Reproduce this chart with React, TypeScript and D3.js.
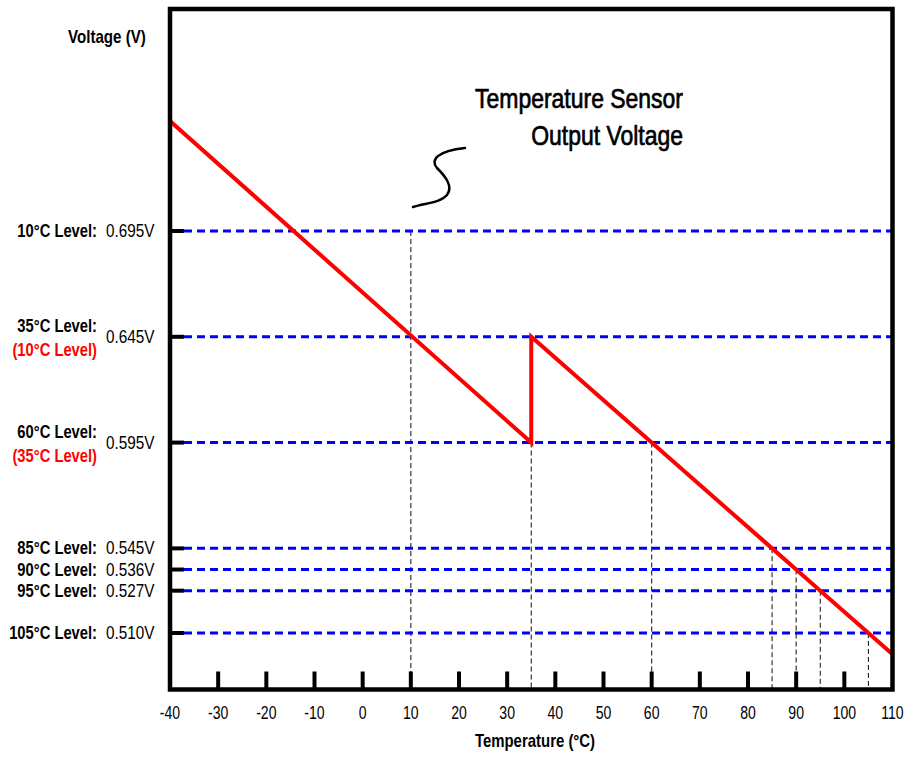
import React from "react";
import * as d3 from "d3";

// Temperature switch levels: the level temperature and its sensor voltage
const levelTemps = [10, 35, 60, 85, 90, 95, 105];
const levelVolts = [0.695, 0.645, 0.595, 0.545, 0.536, 0.527, 0.51];
const levelAltLabels = ["", "(10°C Level)", "(35°C Level)", "", "", "", ""];

// Sensor output: before the 35°C step the curve reads one level higher
const outputBefore: [number, number][] = [
  [-40, 0.747],
  [35, 0.595],
];
const outputAfter: [number, number][] = [
  [35, 0.645],
  [60, 0.595],
  [85, 0.545],
  [90, 0.536],
  [95, 0.527],
  [105, 0.51],
  [110, 0.5015],
];

const xTicks = [-40, -30, -20, -10, 0, 10, 20, 30, 40, 50, 60, 70, 80, 90, 100, 110];

const W = 910;
const H = 757;
const M = { left: 170, right: 17.5, top: 9, bottom: 67.5 };

const FONT = "'Liberation Sans', Arial, sans-serif";

type NTextProps = {
  x: number;
  y: number;
  size: number;
  anchor?: "start" | "middle" | "end";
  bold?: boolean;
  fill?: string;
  sx?: number;
  heavy?: number;
  children: React.ReactNode;
};

// Condensed text: horizontally compressed around its anchor point
function NText({ x, y, size, anchor = "start", bold = false, fill = "#000", sx = 0.82, heavy = 0, children }: NTextProps) {
  return (
    <text
      transform={`translate(${x},${y}) scale(${sx},1)`}
      textAnchor={anchor}
      fontFamily={FONT}
      fontWeight={bold ? "bold" : "normal"}
      fontSize={size}
      fill={fill}
      stroke={heavy ? fill : "none"}
      strokeWidth={heavy}
    >
      {children}
    </text>
  );
}

export default function App() {
  const x = d3.scaleLinear().domain([-40, 110]).range([M.left, W - M.right]);
  // voltage -> equivalent level temperature (sensor calibration), then to pixels
  const calib = d3.scaleLinear().domain([0.745, ...levelVolts]).range([-15, ...levelTemps]);
  const yT = d3.scaleLinear().domain([-42.46, 118.35]).range([M.top, H - M.bottom]);
  const y = (v: number) => yT(calib(v));

  const line = d3
    .line<[number, number]>()
    .x((d) => x(d[0]))
    .y((d) => y(d[1]));

  const left = x(-40);
  const right = x(110);
  const top = M.top;
  const bottom = H - M.bottom;

  return (
    <svg width={W} height={H} style={{ position: "absolute", left: 0, top: 0, background: "#fff" }}>
      <defs>
        <clipPath id="plot-clip">
          <rect x={left} y={top} width={right - left} height={bottom - top} />
        </clipPath>
      </defs>

      {/* vertical guide lines from each level down to the axis */}
      {levelTemps.map((t, i) => {
        const yy = t === 35 ? y(0.595) : y(levelVolts[i]);
        return (
          <line
            key={"g" + t}
            x1={x(t)}
            x2={x(t)}
            y1={yy}
            y2={bottom}
            stroke="#222"
            strokeWidth={1.1}
            strokeDasharray="5,3"
          />
        );
      })}

      {/* level lines */}
      {levelVolts.map((v) => (
        <g key={"l" + v}>
          <line x1={left + 2} x2={left + 14} y1={y(v)} y2={y(v)} stroke="#000" strokeWidth={4} />
          <line
            x1={left + 14}
            x2={right}
            y1={y(v)}
            y2={y(v)}
            stroke="#0000ff"
            strokeWidth={3}
            strokeDasharray="8,5"
          />
        </g>
      ))}

      {/* sensor output */}
      <path
        d={(line(outputBefore) || "") + (line(outputAfter) || "").replace(/^M/, "L")}
        fill="none"
        stroke="#ff0000"
        strokeWidth={4}
        strokeLinejoin="miter"
        clipPath="url(#plot-clip)"
      />

      {/* x ticks */}
      {xTicks.slice(1, -1).map((t) => (
        <line key={"t" + t} x1={x(t)} x2={x(t)} y1={bottom} y2={bottom - 18} stroke="#000" strokeWidth={4} />
      ))}

      {/* frame */}
      <rect x={left} y={top} width={right - left} height={bottom - top} fill="none" stroke="#000" strokeWidth={4.5} />

      {/* x tick labels */}
      {xTicks.map((t) => (
        <NText key={"xl" + t} x={x(t)} y={bottom + 29} size={18} anchor="middle" sx={0.78}>
          {t}
        </NText>
      ))}

      {/* level labels */}
      {levelTemps.map((t, i) => {
        const yy = y(levelVolts[i]);
        const alt = levelAltLabels[i];
        return (
          <g key={"lab" + t}>
            <NText x={97} y={alt ? yy - 5 : yy + 6} size={18} anchor="end" bold>
              {t}°C Level:
            </NText>
            {alt && (
              <NText x={97} y={yy + 19} size={18} anchor="end" bold fill="#ff0000">
                {alt}
              </NText>
            )}
            <NText x={106} y={yy + 6} size={18} sx={0.85}>
              {levelVolts[i].toFixed(3)}V
            </NText>
          </g>
        );
      })}

      {/* axis titles */}
      <NText x={68} y={43} size={18} bold sx={0.84}>
        Voltage (V)
      </NText>
      <NText x={535} y={747} size={18} anchor="middle" bold sx={0.83}>
        Temperature (°C)
      </NText>

      {/* callout */}
      <NText x={683} y={108} size={28} anchor="end" sx={0.82} heavy={0.7}>
        Temperature Sensor
      </NText>
      <NText x={683} y={145} size={28} anchor="end" sx={0.82} heavy={0.7}>
        Output Voltage
      </NText>
      <path
        d="M413,207 C425,203 440,203 447,195 C454,186 444,175 437,168 C430,160 437,151 465,148"
        fill="none"
        stroke="#000"
        strokeWidth={2.5}
        strokeLinecap="round"
      />
    </svg>
  );
}
